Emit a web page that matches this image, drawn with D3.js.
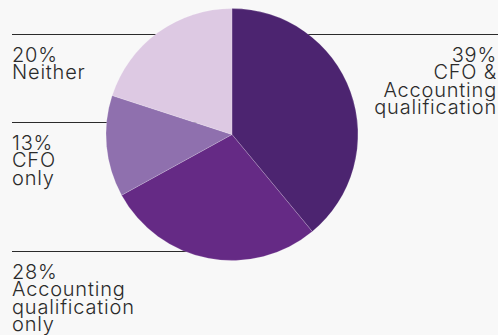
<!DOCTYPE html>
<html>
<head>
<meta charset="utf-8">
<script src="https://cdn.jsdelivr.net/npm/d3@7"></script>
<style>
  html, body { margin: 0; padding: 0; background: #f8f8f8; }
  svg { display: block; }
  text { font-family: Inter, "Noto Sans", sans-serif; font-weight: 300; fill: #2b2b2b; letter-spacing: 0.8px; }
</style>
</head>
<body>
<svg id="chart" width="498" height="335"></svg>
<script>
  // slices, clockwise from 12 o'clock
  var categories = ['CFO & Accounting qualification', 'Accounting qualification only', 'CFO only', 'Neither'];
  var shares = [39, 28, 13, 20];
  var colors = ['#4c2470', '#652a85', '#8f70ae', '#ddc9e3'];
  // label blocks: lines of text per slice
  var labelLines = [
    ['39%', 'CFO &', 'Accounting', 'qualification'],
    ['28%', 'Accounting', 'qualification', 'only'],
    ['13%', 'CFO', 'only'],
    ['20%', 'Neither']
  ];

  var width = 498, height = 335,
      cx = 232, cy = 134.5, radius = 126,
      lineH = 17.4;

  // where each label block sits (rule line y, side)
  var labelPos = [
    { y: 34, side: 'right' },
    { y: 251, side: 'left' },
    { y: 122, side: 'left' },
    { y: 34, side: 'left' }
  ];

  var svg = d3.select('#chart');

  // rules go behind the pie
  var rules = svg.append('g');
  labelPos.forEach(function (p) {
    rules.append('line')
      .attr('x1', p.side === 'left' ? 12 : cx)
      .attr('x2', p.side === 'left' ? cx : width)
      .attr('y1', p.y + 0.5)
      .attr('y2', p.y + 0.5)
      .attr('stroke', '#2b2b2b')
      .attr('stroke-width', 1);
  });

  var pie = d3.pie().sort(null).value(function (d) { return d; });
  var arc = d3.arc().innerRadius(0).outerRadius(radius);

  svg.append('g')
    .attr('transform', 'translate(' + cx + ',' + cy + ')')
    .selectAll('path')
    .data(pie(shares))
    .enter()
    .append('path')
      .attr('d', arc)
      .attr('fill', function (d, i) { return colors[i]; })
      .attr('stroke', 'rgba(255,255,255,0.35)')
      .attr('stroke-width', 0.5);

  var labels = svg.append('g');
  labelLines.forEach(function (lines, i) {
    var p = labelPos[i];
    var t = labels.append('text')
      .attr('font-size', 20)
      .attr('text-anchor', p.side === 'left' ? 'start' : 'end');
    lines.forEach(function (s, j) {
      t.append('tspan')
        .attr('x', p.side === 'left' ? 12 : 497)
        .attr('y', p.y + 28 + j * lineH)
        .text(s);
    });
  });
</script>
</body>
</html>
